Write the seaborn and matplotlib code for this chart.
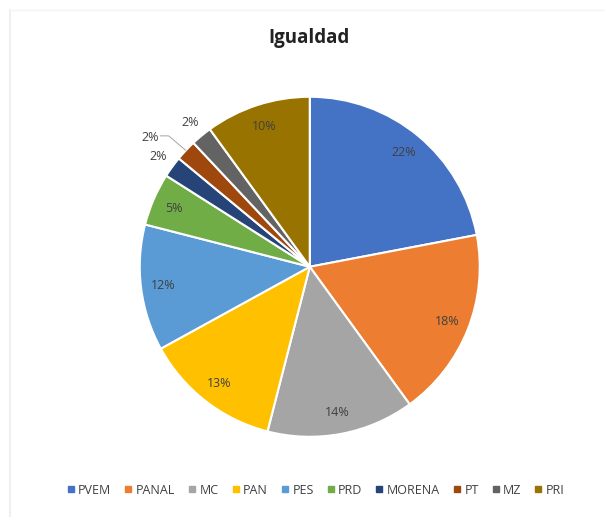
import numpy as np
import matplotlib
matplotlib.use("Agg")
import matplotlib.pyplot as plt
from matplotlib.lines import Line2D
import seaborn as sns

partidos = ["PVEM", "PANAL", "MC", "PAN", "PES", "PRD", "MORENA", "PT", "MZ", "PRI"]
porcentajes = [22, 18, 14, 13, 12, 5, 2, 2, 2, 10]
colores = ["#4472C4", "#ED7D31", "#A5A5A5", "#FFC000", "#5B9BD5",
           "#70AD47", "#264478", "#9E480E", "#636363", "#997300"]

sns.set_theme(style="white")
plt.rcParams["font.family"] = ["Open Sans", "DejaVu Sans"]

fig = plt.figure(figsize=(6.05, 5.17), dpi=100)
ax = fig.add_axes([0.231, 0.155, 0.562, 0.658])

wedges, textos, autotextos = ax.pie(
    porcentajes, colors=sns.color_palette(colores), startangle=90,
    counterclock=False, autopct="%1.0f%%", pctdistance=0.87,
    wedgeprops=dict(edgecolor="white", linewidth=1.5),
    textprops=dict(fontsize=9, color="#404040"))
ax.set_xlim(-1, 1)
ax.set_ylim(-1, 1)
ax.set_aspect("equal")

# etiquetas pequeñas fuera del pastel
for i, (w, t) in enumerate(zip(wedges, autotextos)):
    ang = np.deg2rad((w.theta1 + w.theta2) / 2)
    if partidos[i] in ("MORENA", "MZ"):
        t.set_position((1.1 * np.cos(ang), 1.1 * np.sin(ang)))
    elif partidos[i] == "PT":
        x0, y0 = 1.0 * np.cos(ang), 1.0 * np.sin(ang)
        t.set_position((-0.94, 0.76))
        ax.plot([x0, -0.83, -0.88], [y0, 0.77, 0.77], color="#A6A6A6",
                lw=0.7, clip_on=False)

fig.text(0.51, 1 - 38 / 517, "Igualdad", ha="center", va="center",
         fontsize=13.5, fontweight="bold", color="#222222")

handles = [Line2D([], [], marker="s", linestyle="", markersize=4,
                  color=c) for c in colores]
fig.legend(handles, partidos, loc="center", bbox_to_anchor=(0.522, 1 - 490 / 517),
           ncol=10, frameon=False, fontsize=9, handlelength=0.6,
           handletextpad=0.3, columnspacing=1.05, labelcolor="#404040")

fig.add_artist(Line2D([0.016, 0.016], [0, 0.98], color="#EFEFEF", lw=1.5))
fig.add_artist(Line2D([0.016, 1], [0.98, 0.98], color="#F4F4F4", lw=1))

fig.savefig("out.png", dpi=100, facecolor="white")
